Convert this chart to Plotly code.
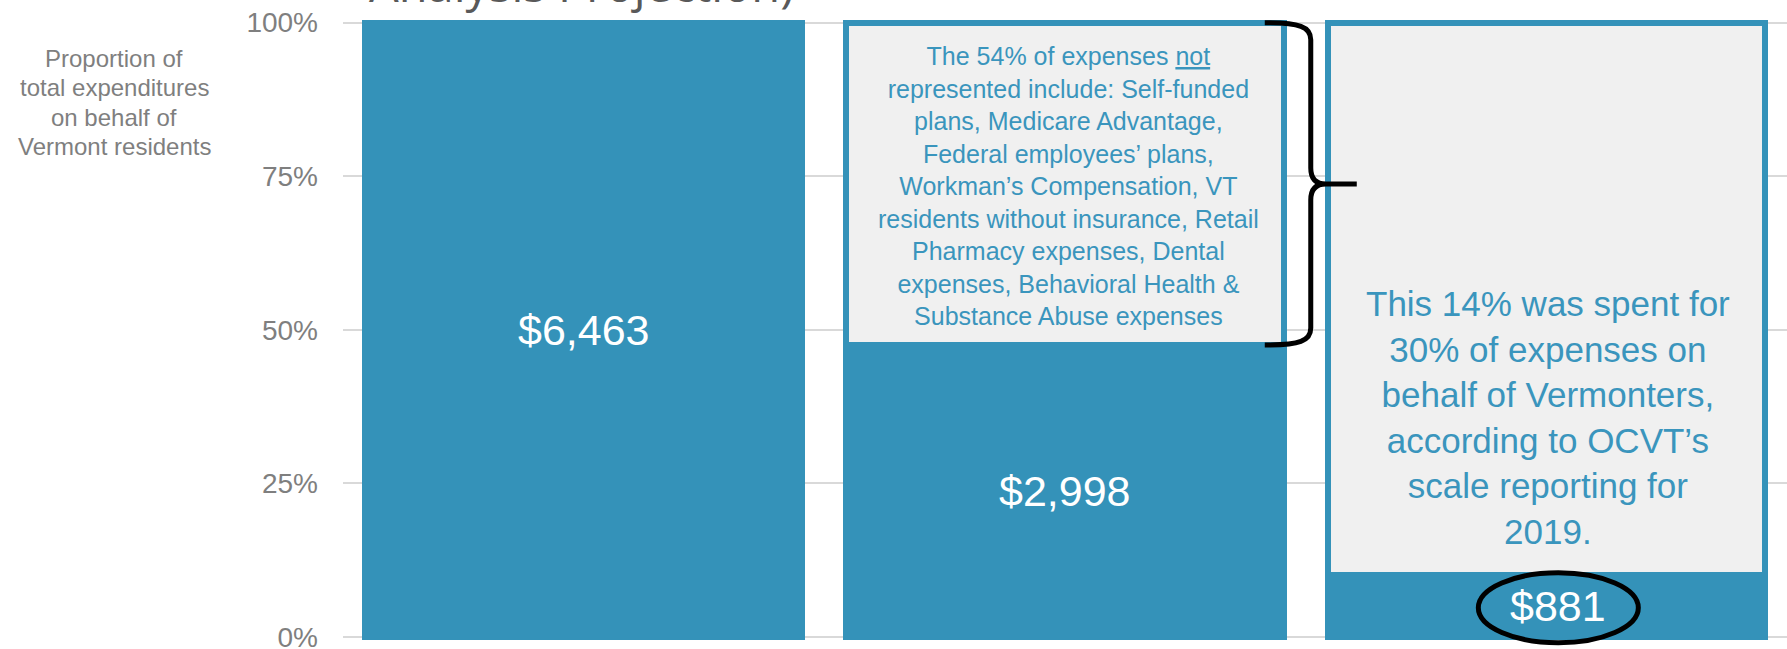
import plotly.graph_objects as go

# ---------------- data ----------------
categories = ["All expenditures", "Represented in analysis", "OCVT scale reporting"]
spend_labels = ["$6,463", "$2,998", "$881"]
shown_pct = [100, 47.5, 10.1]          # blue (represented) share of each bar, %
not_shown_pct = [None, 52.5, 89.9]     # grey call-out share, %
tick_vals = [0, 25, 50, 75, 100]
tick_text = ["0%", "25%", "50%", "75%", "100%"]

note_2 = ["The 54% of expenses <u>not</u>",
          "represented include: Self-funded",
          "plans, Medicare Advantage,",
          "Federal employees’ plans,",
          "Workman’s Compensation, VT",
          "residents without insurance, Retail",
          "Pharmacy expenses, Dental",
          "expenses, Behavioral Health &",
          "Substance Abuse expenses"]
note_3 = ["This 14% was spent for",
          "30% of expenses on",
          "behalf of Vermonters,",
          "according to OCVT’s",
          "scale reporting for",
          "2019."]
y_title = ["Proportion of", "total expenditures", "on behalf of", "Vermont residents"]
chart_title = "Analysis Projection)"

# ---------------- style ----------------
BLUE = "#3492B9"
TXT_BLUE = "#3A95BD"
GREY_BOX = "#F0F0F0"
FONT = "Liberation Sans"

W, H = 1787, 649
ML, MR, MT, MB = 343, 0, 19, 3
X_RANGE = [-0.5, 2.5]
Y_RANGE = [-1.5, 100.6]
BAR_W = 0.909
LINE_W = 6

px_x = (W - ML - MR) / (X_RANGE[1] - X_RANGE[0])
px_y = (H - MT - MB) / (Y_RANGE[1] - Y_RANGE[0])

x = list(range(len(categories)))

fig = go.Figure()
fig.add_bar(x=x, y=shown_pct, width=BAR_W, name="Represented",
            hovertext=categories,
            marker=dict(color=BLUE, line=dict(color=BLUE, width=LINE_W)))
fig.add_bar(x=x, y=not_shown_pct, width=BAR_W, name="Not represented",
            hovertext=categories,
            marker=dict(color=GREY_BOX, line=dict(color=BLUE, width=LINE_W)))

annotations = []
# value labels
for i, lab in enumerate(spend_labels):
    annotations.append(dict(x=x[i], y=shown_pct[i] / 2, xref="x", yref="y",
                            text=lab, showarrow=False,
                            xshift=12 if i == 2 else 0,
                            font=dict(family=FONT, size=43, color="white")))
# call-out texts
annotations.append(dict(x=x[1], y=(shown_pct[1] + 100) / 2, xref="x", yref="y",
                        text="<br>".join(note_2), showarrow=False, xshift=3,
                        yanchor="middle", yshift=-2,
                        font=dict(family=FONT, size=25, color=TXT_BLUE)))
annotations.append(dict(x=x[2], y=shown_pct[2], xref="x", yref="y",
                        text="<br>".join(note_3), showarrow=False, xshift=2,
                        yanchor="bottom", yshift=22,
                        font=dict(family=FONT, size=35, color=TXT_BLUE)))
# axis title (horizontal), one line per annotation for tight spacing
for k, line in enumerate(y_title):
    annotations.append(dict(x=0, y=1, xref="paper", yref="paper", xanchor="center",
                            yanchor="middle", xshift=-229, yshift=-(39 + 29.5 * k),
                            text=line, showarrow=False,
                            font=dict(family=FONT, size=24, color="#7F7F7F")))
# partially visible chart title
annotations.append(dict(x=0, y=1, xref="paper", yref="paper", xanchor="left",
                        yanchor="bottom", xshift=24, yshift=1,
                        text=chart_title, showarrow=False,
                        font=dict(family="Open Sans", size=47, color="#595959")))

# ---------------- shapes ----------------
def dx(px):
    return px / px_x


def dy(px):
    return px / px_y


def pt(xd, yd):
    return f"{xd:.5f},{yd:.5f}"


# brace "}" spanning the grey part of bar 2
edge = x[1] + BAR_W / 2
top, bot = 100, shown_pct[1]
mid = (top + bot) / 2
xe = edge - dx(19)
xv = edge + dx(27)
xt = edge + dx(73)
xc = edge + dx(42)
path = (
    f"M {pt(xe, top)} C {pt(edge + dx(16), top)} {pt(xv, top - dy(4))} {pt(xv, top - dy(17))} "
    f"L {pt(xv, mid + dy(16))} Q {pt(xv, mid)} {pt(xc, mid)} L {pt(xt, mid)} "
    f"M {pt(xc, mid)} Q {pt(xv, mid)} {pt(xv, mid - dy(16))} "
    f"L {pt(xv, bot + dy(17))} C {pt(xv, bot + dy(4))} {pt(edge + dx(16), bot)} {pt(xe, bot)}"
)
shapes = [dict(type="path", xref="x", yref="y", path=path,
               line=dict(color="black", width=5), layer="above")]

# ellipse around $881
cx = x[2] + dx(12)
cy = shown_pct[2] / 2 - dy(2)
shapes.append(dict(type="circle", xref="x", yref="y",
                   x0=cx - dx(80), x1=cx + dx(80),
                   y0=cy - dy(35), y1=cy + dy(35),
                   line=dict(color="black", width=5), layer="above"))

fig.update_layout(
    width=W, height=H,
    margin=dict(l=ML, r=MR, t=MT, b=MB, pad=0, autoexpand=False),
    barmode="stack",
    showlegend=False,
    plot_bgcolor="white", paper_bgcolor="white",
    annotations=annotations,
    shapes=shapes,
    xaxis=dict(range=X_RANGE, showticklabels=False, showgrid=False,
               zeroline=False, showline=False, ticks="", automargin=False),
    yaxis=dict(range=Y_RANGE, tickvals=tick_vals, ticktext=tick_text,
               showgrid=True, gridcolor="#D9D9D9", gridwidth=1.5,
               zeroline=False, showline=False, ticks="", automargin=False,
               ticklabelstandoff=24, ticklabeloverflow="allow",
               tickfont=dict(family=FONT, size=28, color="#7F7F7F")),
)

post = (
    "var s=document.createElement('style');"
    "s.textContent='html,body{margin:0;padding:0;overflow:hidden;width:1787px;height:649px;}"
    ".plotly-graph-div,.svg-container{overflow:hidden !important;}';"
    "document.head.appendChild(s);"
)
fig.write_html("out.html", include_plotlyjs=True, full_html=True,
               config={"displayModeBar": False},
               post_script=post)
